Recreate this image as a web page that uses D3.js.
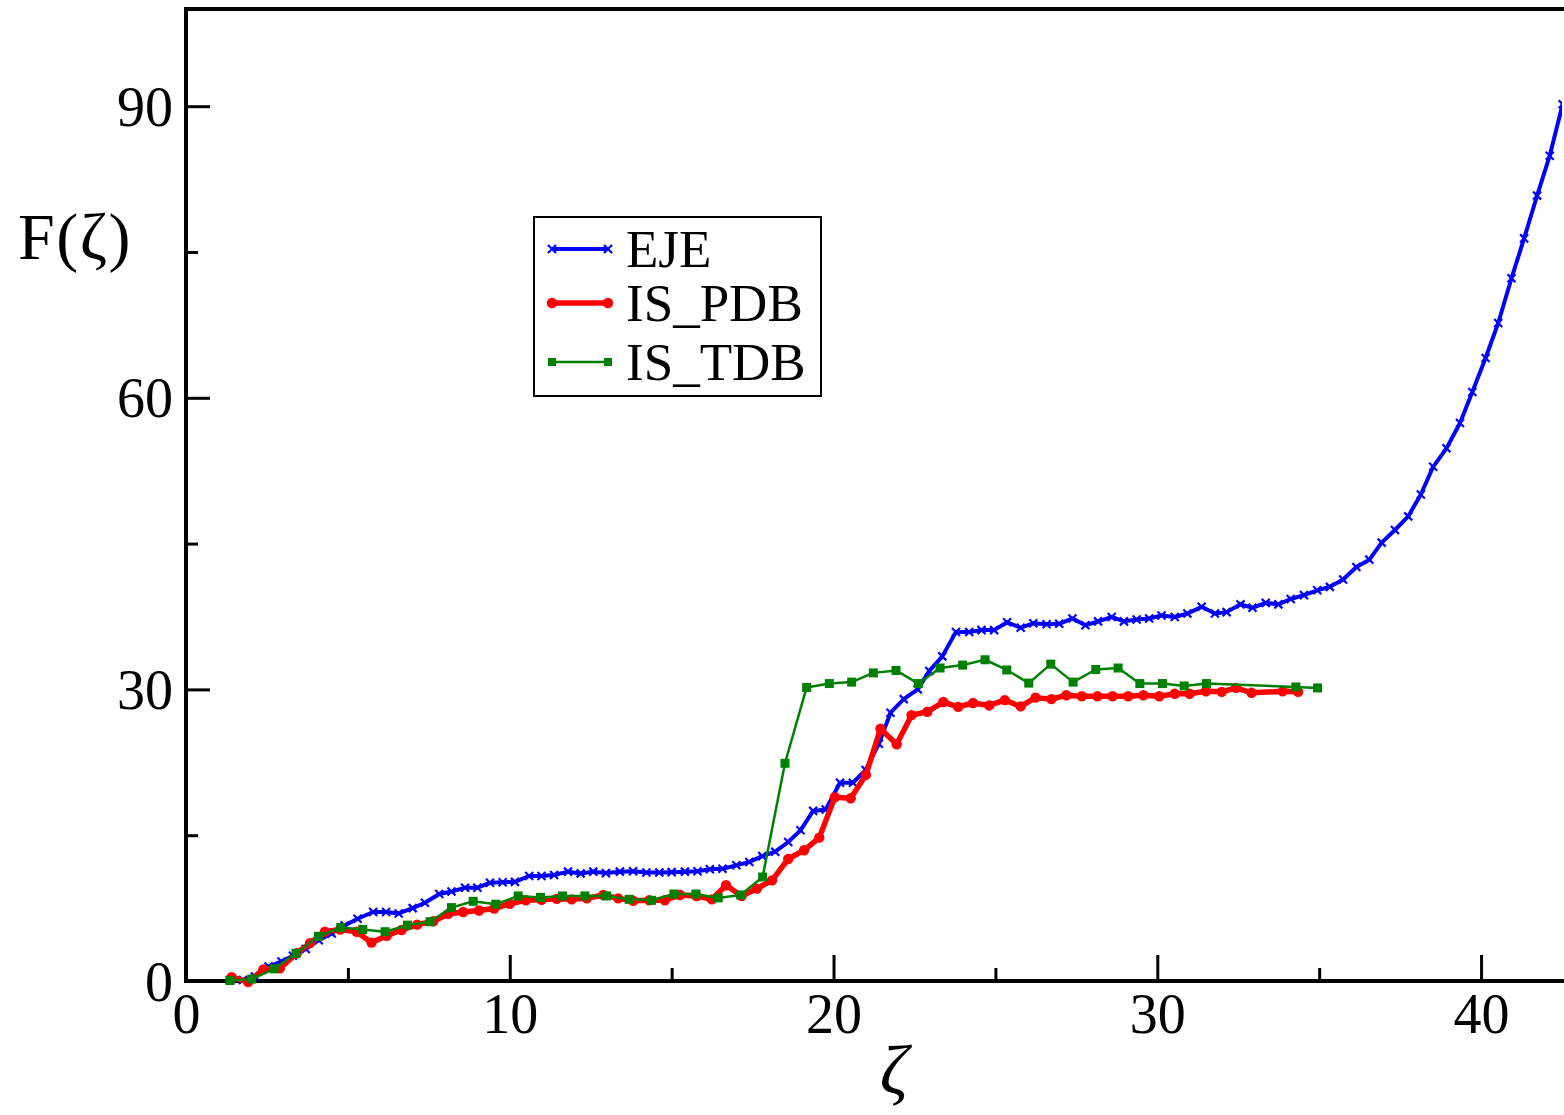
<!DOCTYPE html>
<html>
<head>
<meta charset="utf-8">
<script src="https://cdn.jsdelivr.net/npm/d3@7"></script>
<style>
html,body{margin:0;padding:0;background:#fff;}
svg{display:block;}
text{font-family:"Liberation Serif","DejaVu Serif",serif;fill:#000;}
</style>
</head>
<body>
<svg id="chart" width="1564" height="1115"></svg>
<script>
// ---- data ----
const ejeX = [1.36,1.76,2.13,2.55,2.95,3.3,3.7,4.1,4.5,4.9,5.3,5.78,6.18,6.57,7.0,7.38,7.82,8.2,8.62,9.0,9.39,9.78,10.16,10.6,10.98,11.37,11.8,12.19,12.58,12.97,13.4,13.81,14.22,14.62,15.0,15.41,15.8,16.18,16.57,17.0,17.4,17.8,18.2,18.6,18.98,19.37,19.76,20.2,20.6,20.99,21.4,21.76,22.17,22.6,22.96,23.36,23.78,24.19,24.57,24.96,25.36,25.78,26.17,26.58,26.97,27.38,27.78,28.17,28.59,28.97,29.36,29.75,30.13,30.54,30.93,31.37,31.78,32.14,32.57,32.94,33.35,33.74,34.12,34.53,34.94,35.33,35.74,36.15,36.55,36.93,37.34,37.75,38.14,38.52,38.93,39.35,39.73,40.14,40.53,40.94,41.33,41.73,42.12,42.52];
const ejeY = [0.1,0.1,0.45,1.5,2.0,2.6,3.3,4.2,4.9,5.7,6.4,7.1,7.1,6.95,7.5,8.05,8.95,9.2,9.6,9.6,10.1,10.15,10.2,10.8,10.8,10.9,11.25,11.07,11.25,11.1,11.25,11.3,11.17,11.17,11.2,11.25,11.3,11.5,11.55,11.9,12.25,12.85,13.3,14.3,15.5,17.5,17.65,20.4,20.4,21.7,24.4,27.6,29.0,30.0,31.9,33.4,35.9,35.9,36.1,36.1,36.9,36.35,36.8,36.7,36.75,37.3,36.6,37.0,37.45,37.0,37.2,37.3,37.6,37.45,37.8,38.5,37.8,37.95,38.75,38.4,38.9,38.75,39.3,39.7,40.2,40.55,41.3,42.6,43.35,45.1,46.4,47.8,50.05,52.9,54.8,57.4,60.6,64.1,67.7,72.3,76.4,80.8,84.9,90.2];

const pdbX = [1.41,1.92,2.39,2.9,3.42,3.83,4.29,4.76,5.27,5.73,6.2,6.66,7.14,7.64,8.1,8.56,9.05,9.52,10.0,10.5,10.98,11.45,11.91,12.38,12.89,13.35,13.81,14.31,14.79,15.26,15.77,16.24,16.68,17.16,17.63,18.1,18.6,19.09,19.56,20.04,20.53,21.0,21.45,21.95,22.41,22.9,23.39,23.85,24.31,24.81,25.29,25.78,26.24,26.73,27.19,27.67,28.15,28.62,29.1,29.57,30.06,30.54,31.0,31.5,31.99,32.43,32.91,33.87,34.35];
const pdbY = [0.4,-0.1,1.2,1.3,2.85,3.9,5.07,5.3,5.07,3.95,4.65,5.25,5.8,6.15,6.9,7.1,7.25,7.45,7.95,8.3,8.35,8.45,8.4,8.5,8.85,8.5,8.25,8.3,8.3,8.85,8.75,8.4,9.85,8.75,9.5,10.35,12.55,13.45,14.75,18.9,18.8,21.2,25.95,24.35,27.35,27.7,28.7,28.2,28.6,28.35,28.9,28.25,29.15,29.0,29.4,29.3,29.3,29.3,29.3,29.4,29.3,29.55,29.55,29.8,29.75,30.15,29.65,29.8,29.75];

const tdbX = [1.36,2.03,2.72,3.4,4.09,4.78,5.46,6.15,6.84,7.54,8.2,8.87,9.57,10.26,10.95,11.63,12.32,12.99,13.69,14.38,15.07,15.75,16.44,17.13,17.81,18.5,19.17,19.87,20.56,21.23,21.93,22.62,23.29,23.99,24.68,25.35,26.03,26.71,27.4,28.1,28.79,29.46,30.16,30.83,31.52,34.28,34.95];
const tdbY = [0.05,0.2,1.25,2.85,4.6,5.5,5.3,5.07,5.75,6.1,7.55,8.2,7.9,8.75,8.6,8.75,8.75,8.75,8.4,8.3,8.95,8.95,8.55,8.85,10.7,22.4,30.2,30.6,30.75,31.7,31.95,30.6,32.2,32.5,33.05,32.0,30.65,32.6,30.75,32.05,32.2,30.6,30.6,30.35,30.6,30.25,30.15];

const xMajor = [0,10,20,30,40];
const xMinor = [5,15,25,35];
const yMajor = [0,30,60,90];
const yMinor = [15,45,75];
const seriesNames = ["EJE","IS_PDB","IS_TDB"];
const seriesColors = ["#0000ff","#ff0000","#008000"];

// ---- layout ----
const L = 186, R = 1562, T = 9, B = 981;
const svg = d3.select("#chart");
const x = d3.scaleLinear().domain([0,42.5]).range([L,R]);
const y = d3.scaleLinear().domain([0,100]).range([B,T]);

svg.append("defs").append("clipPath").attr("id","clip")
  .append("rect").attr("x",L-10).attr("y",T).attr("width",R-L+10).attr("height",B-T+10);

function styleAxis(g){
  g.select(".domain").remove();
  g.selectAll(".tick line").attr("stroke","#000").attr("stroke-width",3);
}
const xAxisMaj = d3.axisBottom(x).tickValues(xMajor).tickSizeInner(-26).tickSizeOuter(0).tickPadding(36).tickFormat(d3.format("d"));
const gx = svg.append("g").attr("transform",`translate(0,${B})`).call(xAxisMaj);
styleAxis(gx);
gx.selectAll(".tick text").attr("font-size",56).attr("font-family","Liberation Serif, serif").attr("dy","0.71em").attr("y",12);
const gxm = svg.append("g").attr("transform",`translate(0,${B})`)
  .call(d3.axisBottom(x).tickValues(xMinor).tickSizeInner(-13).tickSizeOuter(0).tickFormat(""));
styleAxis(gxm);

const yAxisMaj = d3.axisLeft(y).tickValues(yMajor).tickSizeInner(-24).tickSizeOuter(0).tickPadding(14).tickFormat(d3.format("d"));
const gy = svg.append("g").attr("transform",`translate(${L},0)`).call(yAxisMaj);
styleAxis(gy);
gy.selectAll(".tick text").attr("font-size",56).attr("font-family","Liberation Serif, serif").attr("x",-13).attr("dy","0.34em");
const gym = svg.append("g").attr("transform",`translate(${L},0)`)
  .call(d3.axisLeft(y).tickValues(yMinor).tickSizeInner(-12).tickSizeOuter(0).tickFormat(""));
styleAxis(gym);

// frame
svg.append("rect").attr("x",L).attr("y",T).attr("width",R-L+6).attr("height",B-T)
  .attr("fill","none").attr("stroke","#000").attr("stroke-width",4);

// series
const plot = svg.append("g").attr("clip-path","url(#clip)");
const line = d3.line().x(d=>x(d[0])).y(d=>y(d[1]));
const ejeData = ejeX.map((v,i)=>[v,ejeY[i]]);
const pdbData = pdbX.map((v,i)=>[v,pdbY[i]]);
const tdbData = tdbX.map((v,i)=>[v,tdbY[i]]);

plot.append("path").datum(ejeData).attr("d",line).attr("fill","none")
  .attr("stroke",seriesColors[0]).attr("stroke-width",4).attr("stroke-linejoin","round");
plot.append("g").selectAll("path").data(ejeData).join("path")
  .attr("d",d=>{const cx=x(d[0]),cy=y(d[1]),s=4;return `M${cx-s},${cy-s}L${cx+s},${cy+s}M${cx-s},${cy+s}L${cx+s},${cy-s}`;})
  .attr("stroke",seriesColors[0]).attr("stroke-width",2.2).attr("fill","none");

plot.append("path").datum(pdbData).attr("d",line).attr("fill","none")
  .attr("stroke",seriesColors[1]).attr("stroke-width",5.5).attr("stroke-linejoin","round");
plot.append("g").selectAll("circle").data(pdbData).join("circle")
  .attr("cx",d=>x(d[0])).attr("cy",d=>y(d[1])).attr("r",5.2).attr("fill",seriesColors[1]);

plot.append("path").datum(tdbData).attr("d",line).attr("fill","none")
  .attr("stroke",seriesColors[2]).attr("stroke-width",2.5).attr("stroke-linejoin","round");
plot.append("g").selectAll("rect").data(tdbData).join("rect")
  .attr("x",d=>x(d[0])-4.5).attr("y",d=>y(d[1])-4.5).attr("width",9).attr("height",9).attr("fill",seriesColors[2]);

// axis titles
svg.append("text").attr("x",18).attr("y",259).attr("font-size",66).attr("letter-spacing",1.5).text("F(ζ)");
svg.append("text").attr("x",894).attr("y",1094).attr("font-size",70).attr("font-style","italic").attr("text-anchor","middle").text("ζ");

// legend
const lg = svg.append("g");
lg.append("rect").attr("x",534).attr("y",217).attr("width",287).attr("height",179)
  .attr("fill","#fff").attr("stroke","#000").attr("stroke-width",2);
const rowsY = [249,303,362];
seriesNames.forEach((name,i)=>{
  const yy = rowsY[i];
  const c = seriesColors[i];
  const sw = [4,5.5,2.5][i];
  lg.append("line").attr("x1",552).attr("x2",608).attr("y1",yy).attr("y2",yy).attr("stroke",c).attr("stroke-width",sw);
  [552,608].forEach(px=>{
    if(i===0){
      lg.append("path").attr("d",`M${px-4},${yy-4}L${px+4},${yy+4}M${px-4},${yy+4}L${px+4},${yy-4}`).attr("stroke",c).attr("stroke-width",2.2);
    } else if(i===1){
      lg.append("circle").attr("cx",px).attr("cy",yy).attr("r",5.2).attr("fill",c);
    } else {
      lg.append("rect").attr("x",px-4).attr("y",yy-4).attr("width",8).attr("height",8).attr("fill",c);
    }
  });
  lg.append("text").attr("x",626).attr("y",yy+18).attr("font-size",53).text(name);
});
</script>
</body>
</html>
